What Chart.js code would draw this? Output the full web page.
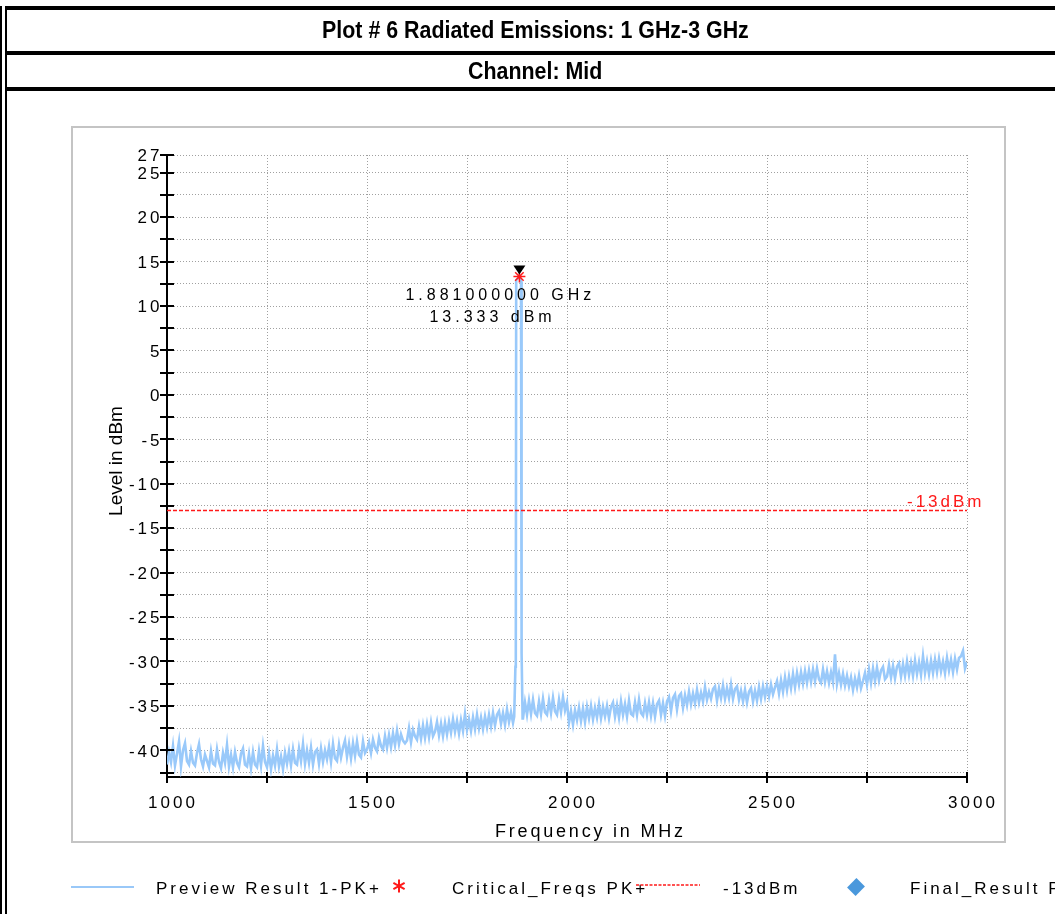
<!DOCTYPE html>
<html>
<head>
<meta charset="utf-8">
<title>Plot # 6 Radiated Emissions: 1 GHz-3 GHz</title>
<script src="https://cdn.jsdelivr.net/npm/chart.js@4.4.1/dist/chart.umd.min.js"></script>
<style>
  html, body { margin: 0; padding: 0; background: #fff; }
  body { width: 1055px; height: 914px; position: relative; overflow: hidden;
         font-family: "Liberation Sans", Arial, sans-serif; color: #000; }
  #chart { position: absolute; left: 0; top: 0; }
  .vline { position: absolute; top: 6px; bottom: 0; width: 2px; background: #000; }
  .hline { position: absolute; left: 7px; right: 0; height: 4px; background: #000; }
  .row { position: absolute; left: 8px; width: 1054px; text-align: center;
         font-weight: bold; font-size: 23px; white-space: nowrap; }
  .row span { display: inline-block; transform: scaleX(0.93); }
  .leg { position: absolute; top: 879px; line-height: 20px; font-size: 17px;
         letter-spacing: 3px; white-space: nowrap; }
  .legline { position: absolute; }
</style>
</head>
<body>
<canvas id="chart" width="1055" height="914"></canvas>

<div class="vline" style="left:0"></div>
<div class="vline" style="left:5px"></div>
<div class="hline" style="top:6px"></div>
<div class="hline" style="top:51px"></div>
<div class="hline" style="top:87px"></div>
<div class="row" style="top:10px;height:41px;line-height:41px"><span>Plot # 6 Radiated Emissions: 1 GHz-3 GHz</span></div>
<div class="row" style="top:55px;height:32px;line-height:32px"><span>Channel: Mid</span></div>

<!-- legend -->
<div class="legline" style="left:71px;top:886px;width:63px;height:2px;background:#99c8f8"></div>
<div class="leg" style="left:156px">Preview Result 1-PK+</div>
<svg class="legline" style="left:392px;top:879px" width="14" height="14" viewBox="0 0 14 14">
  <g stroke="#ff1a1a" stroke-width="2">
    <line x1="7" y1="0.5" x2="7" y2="13.5"/>
    <line x1="1.4" y1="3.8" x2="12.6" y2="10.2"/>
    <line x1="1.4" y1="10.2" x2="12.6" y2="3.8"/>
  </g>
</svg>
<div class="leg" style="left:452px">Critical_Freqs PK+</div>
<svg class="legline" style="left:636px;top:883px" width="64" height="4">
  <line x1="0" y1="2" x2="64" y2="2" stroke="#ff1a1a" stroke-width="1.5" stroke-dasharray="3 1.5"/>
</svg>
<div class="leg" style="left:723px">-13dBm</div>
<div class="legline" style="left:850px;top:881px;width:12px;height:12px;background:#4a98dc;transform:rotate(45deg) scaleY(1.1)"></div>
<div class="leg" style="left:910px">Final_Result PK+</div>

<script>
// ---- sweep data (dBm) ----
const sweepStep = 5;            // MHz between sweep points
const lowBandStart = 1000;      // first point of the lower sweep segment
const highBandStart = 1890;     // first point of the upper sweep segment

// 1000 .. 1865 MHz
const lowBandLevels = [
  -41.6, -40.2, -41.3, -39.5, -41.7, -40.4, -39.0, -41.8, -40.0, -39.2, -41.2, -41.6, -40.1, -41.4, -41.7, -40.3, -39.3, -41.0, -41.8, -40.5,
  -41.2, -41.9, -40.1, -41.5, -41.7, -39.9, -41.3, -42.0, -40.3, -41.4, -39.4, -41.8, -40.5, -41.9, -40.2, -41.4, -41.9, -40.4, -39.8, -41.6,
  -41.8, -40.4, -42.0, -40.2, -41.6, -41.9, -40.1, -41.7, -39.5, -41.3, -41.9, -40.4, -42.1, -40.6, -41.7, -39.9, -41.8, -40.7, -42.1, -40.3,
  -41.5, -40.1, -41.7, -39.9, -41.4, -41.6, -39.8, -41.2, -39.3, -41.5, -40.0, -41.4, -39.7, -41.6, -40.2, -39.9, -41.5, -39.8, -41.3, -40.0,
  -41.0, -39.6, -41.3, -39.3, -40.9, -41.2, -39.4, -40.8, -39.7, -38.9, -40.7, -39.3, -40.9, -39.2, -40.6, -39.0, -40.5, -40.8, -39.0, -40.3,
  -39.9, -39.1, -40.3, -38.8, -39.7, -40.1, -38.6, -39.5, -39.9, -38.4, -39.7, -38.3, -39.6, -38.1, -39.4, -37.8, -39.3, -38.2, -38.9, -39.2,
  -38.9, -37.5, -39.1, -37.7, -38.4, -38.8, -37.3, -38.7, -37.2, -38.6, -37.1, -38.5, -36.9, -38.4, -37.9, -36.8, -38.3, -37.0, -38.4, -36.9,
  -38.2, -36.8, -38.0, -36.5, -37.9, -36.7, -38.1, -36.6, -37.8, -35.9, -37.7, -36.5, -37.8, -36.3, -37.6, -36.0, -37.5, -36.3, -37.6, -36.2,
  -37.4, -36.0, -37.3, -35.8, -37.2, -36.0, -35.6, -37.0, -35.8, -37.1, -35.4, -36.8, -35.7, -36.9
];

// carrier at the mid channel
const carrierFreqs  = [1868, 1871, 1872, 1873, 1881, 1885, 1886, 1887, 1889];
const carrierLevels = [-36.2, -30.6, -29.8, 12.9, 13.333, 12.8, -28.8, -29.1, -36.4];

// 1890 .. 3000 MHz
const highBandLevels = [
  -36.4, -34.6, -36.0, -34.4, -35.9, -34.3, -35.8, -36.1, -34.5, -35.9, -34.2, -35.7, -36.0, -34.4, -35.8, -34.1, -35.6, -36.0, -34.3, -35.7, -34.0, -35.5,
  -34.6, -36.9, -35.6, -37.1, -35.5, -36.6, -35.2, -36.7, -35.3, -36.8, -35.1, -36.4, -35.0, -36.5, -35.2, -36.3, -34.8, -36.4, -35.1, -36.2,
  -35.0, -36.4, -35.1, -34.6, -36.2, -34.9, -36.3, -34.5, -36.0, -34.8, -36.2, -34.4, -35.9, -36.1, -34.6, -36.0, -34.3, -35.8, -36.1, -34.7,
  -36.0, -34.6, -36.1, -34.7, -36.2, -34.8, -34.4, -36.0, -34.7, -36.1, -34.5, -34.0, -35.6, -34.1, -33.7, -35.4, -33.9, -33.6, -35.2, -33.8,
  -34.9, -33.4, -34.8, -33.6, -34.7, -33.2, -34.6, -33.5, -34.5, -32.9, -34.3, -33.4, -34.2, -33.1, -32.8, -34.4, -33.0, -34.1, -32.7, -34.2,
  -33.0, -34.1, -32.6, -34.2, -33.1, -32.8, -34.3, -33.3, -34.5, -33.2, -34.6, -33.4, -33.0, -34.5, -33.3, -34.4, -32.9, -34.2, -32.8, -34.0,
  -32.8, -33.9, -32.6, -33.7, -32.9, -32.2, -33.6, -32.1, -33.4, -31.8, -33.2, -31.7, -33.0, -31.4, -32.9, -31.3, -32.6, -31.2, -32.5, -31.1,
  -32.4, -31.0, -32.3, -30.9, -32.2, -30.8, -32.0, -32.4, -30.9, -32.3, -31.1, -32.4, -31.2, -32.3, -29.2, -32.5, -31.3, -32.6, -31.4, -32.7,
  -31.6, -32.8, -31.8, -33.2, -31.9, -32.9, -31.6, -33.0, -32.2, -31.3, -32.6, -30.9, -32.4, -30.8, -32.2, -30.7, -32.1, -31.0, -30.6, -32.0,
  -31.7, -30.4, -31.8, -30.5, -31.9, -30.6, -30.2, -31.7, -30.3, -31.6, -30.0, -31.5, -30.2, -31.6, -29.9, -31.4, -30.1, -31.5, -29.4, -31.3,
  -30.0, -31.4, -29.9, -31.3, -29.8, -31.2, -29.7, -31.1, -30.0, -31.3, -29.6, -31.0, -29.8, -31.2, -29.7, -30.9, -29.6, -29.4, -28.8, -30.8,
  -30.1
];

// critical frequency marker
const peakFreq = 1881;
const peakLevel = 13.333;

// limit line
const limitLevel = -13;
const limitLabel = '-13dBm';

// axes
const xMin = 1000, xMax = 3000;
const yMin = -43, yMax = 27;
const xTickValues  = [1000, 1250, 1500, 1750, 2000, 2250, 2500, 2750, 3000];
const xLabelValues = [1000, 1500, 2000, 2500, 3000];
const yTickValues  = [-42.5, -40, -37.5, -35, -32.5, -30, -27.5, -25, -22.5, -20, -17.5, -15, -12.5, -10,
                      -7.5, -5, -2.5, 0, 2.5, 5, 7.5, 10, 12.5, 15, 17.5, 20, 22.5, 25, 27];
const yLabelValues = [-40, -35, -30, -25, -20, -15, -10, -5, 0, 5, 10, 15, 20, 25, 27];

// ---- build the trace ----
const trace = [];
lowBandLevels.forEach((v, i) => trace.push({ x: lowBandStart + i * sweepStep, y: v }));
carrierFreqs.forEach((f, i) => trace.push({ x: f, y: carrierLevels[i] }));
highBandLevels.forEach((v, i) => trace.push({ x: highBandStart + i * sweepStep, y: v }));

const FONT = '"Liberation Sans", Arial, sans-serif';

// frame, axis tick marks, tick labels, titles and marker annotation
const plotDecor = {
  id: 'plotDecor',
  beforeDraw(chart) {
    const ctx = chart.ctx;
    ctx.save();
    ctx.strokeStyle = '#c4c4c4';
    ctx.lineWidth = 2;
    ctx.strokeRect(72, 127, 933, 715);
    ctx.restore();
  },
  afterDraw(chart) {
    const { ctx, chartArea: area, scales: { x, y } } = chart;
    ctx.save();

    // ticks crossing the axis lines
    ctx.strokeStyle = '#000';
    ctx.lineWidth = 2;
    ctx.beginPath();
    y.ticks.forEach(t => {
      const py = Math.round(y.getPixelForValue(t.value));
      ctx.moveTo(area.left - 7, py); ctx.lineTo(area.left + 7, py);
    });
    x.ticks.forEach(t => {
      const px = Math.round(x.getPixelForValue(t.value));
      ctx.moveTo(px, area.bottom - 5); ctx.lineTo(px, area.bottom + 6);
    });
    ctx.stroke();

    // tick labels
    ctx.fillStyle = '#000';
    ctx.font = '17px ' + FONT;
    ctx.letterSpacing = '3px';
    ctx.textAlign = 'right';
    ctx.textBaseline = 'middle';
    y.ticks.forEach(t => {
      if (yLabelValues.includes(t.value)) {
        ctx.fillText(String(t.value), area.left - 4.5, y.getPixelForValue(t.value) + 1.5);
      }
    });
    ctx.textAlign = 'left';
    ctx.textBaseline = 'alphabetic';
    x.ticks.forEach(t => {
      if (xLabelValues.includes(t.value)) {
        const s = String(t.value);
        const w = ctx.measureText(s).width - 3;
        ctx.fillText(s, x.getPixelForValue(t.value) + 4.5 - w / 2, area.bottom + 31);
      }
    });

    // axis titles
    ctx.font = '18px ' + FONT;
    ctx.letterSpacing = '2.8px';
    ctx.fillText('Frequency in MHz', area.left + 328, area.bottom + 59.5);

    ctx.save();
    ctx.font = '19px ' + FONT;
    ctx.letterSpacing = '0px';
    ctx.textAlign = 'center';
    ctx.translate(area.left - 45.5, (area.top + area.bottom) / 2 - 5);
    ctx.rotate(-Math.PI / 2);
    ctx.fillText('Level in dBm', 0, 0);
    ctx.restore();

    // limit label
    ctx.fillStyle = '#ff1a1a';
    ctx.font = '17px ' + FONT;
    ctx.letterSpacing = '3px';
    ctx.fillText(limitLabel, area.right - 60, y.getPixelForValue(limitLevel) - 3.5);

    // marker annotation: triangle above the critical frequency and its readout
    const mx = x.getPixelForValue(peakFreq);
    const my = y.getPixelForValue(peakLevel);
    ctx.fillStyle = '#000';
    ctx.beginPath();
    ctx.moveTo(mx - 6, my - 11);
    ctx.lineTo(mx + 6, my - 11);
    ctx.lineTo(mx, my - 2);
    ctx.closePath();
    ctx.fill();

    ctx.font = '16px ' + FONT;
    ctx.letterSpacing = '4px';
    ctx.fillText((peakFreq / 1000).toFixed(9) + ' GHz', mx - 114, my + 24);
    ctx.fillText(peakLevel.toFixed(3) + ' dBm', mx - 90, my + 46);

    ctx.restore();
  }
};

new Chart(document.getElementById('chart'), {
  type: 'line',
  data: {
    datasets: [
      {
        label: 'Critical_Freqs PK+',
        data: [{ x: peakFreq, y: peakLevel }],
        showLine: false,
        pointStyle: 'star',
        pointRadius: 6,
        borderColor: '#ff1a1a',
        backgroundColor: '#ff1a1a',
        pointBorderWidth: 1.5,
        order: 0
      },
      {
        label: '-13dBm',
        data: [{ x: xMin, y: limitLevel }, { x: xMax, y: limitLevel }],
        borderColor: '#ff1a1a',
        borderWidth: 1.6,
        borderDash: [4, 2],
        pointRadius: 0,
        order: 1
      },
      {
        label: 'Preview Result 1-PK+',
        data: trace,
        borderColor: '#99c9fa',
        borderWidth: 2.6,
        pointRadius: 0,
        tension: 0,
        order: 2
      },
      {
        label: 'Final_Result PK+',
        data: [],
        showLine: false,
        pointStyle: 'rectRot',
        backgroundColor: '#4a98dc',
        order: 3
      }
    ]
  },
  options: {
    responsive: false,
    devicePixelRatio: 1,
    animation: false,
    events: [],
    layout: { padding: { left: 107, right: 88, top: 155, bottom: 97 } },
    plugins: { legend: { display: false }, tooltip: { enabled: false }, title: { display: false } },
    scales: {
      x: {
        type: 'linear',
        min: xMin, max: xMax,
        afterBuildTicks: s => { s.ticks = xTickValues.map(v => ({ value: v })); },
        afterFit: s => { s.height = 40; },
        grid: { color: '#a0a0a0', lineWidth: 1, drawTicks: false },
        border: { display: true, color: '#000', width: 2, dash: [1, 2] },
        ticks: { display: false }
      },
      y: {
        type: 'linear',
        min: yMin, max: yMax,
        afterBuildTicks: s => { s.ticks = yTickValues.map(v => ({ value: v })); },
        afterFit: s => { s.width = 60; },
        grid: { color: '#a0a0a0', lineWidth: 1, drawTicks: false },
        border: { display: true, color: '#000', width: 2, dash: [1, 2] },
        ticks: { display: false }
      }
    }
  },
  plugins: [plotDecor]
});
</script>
</body>
</html>
